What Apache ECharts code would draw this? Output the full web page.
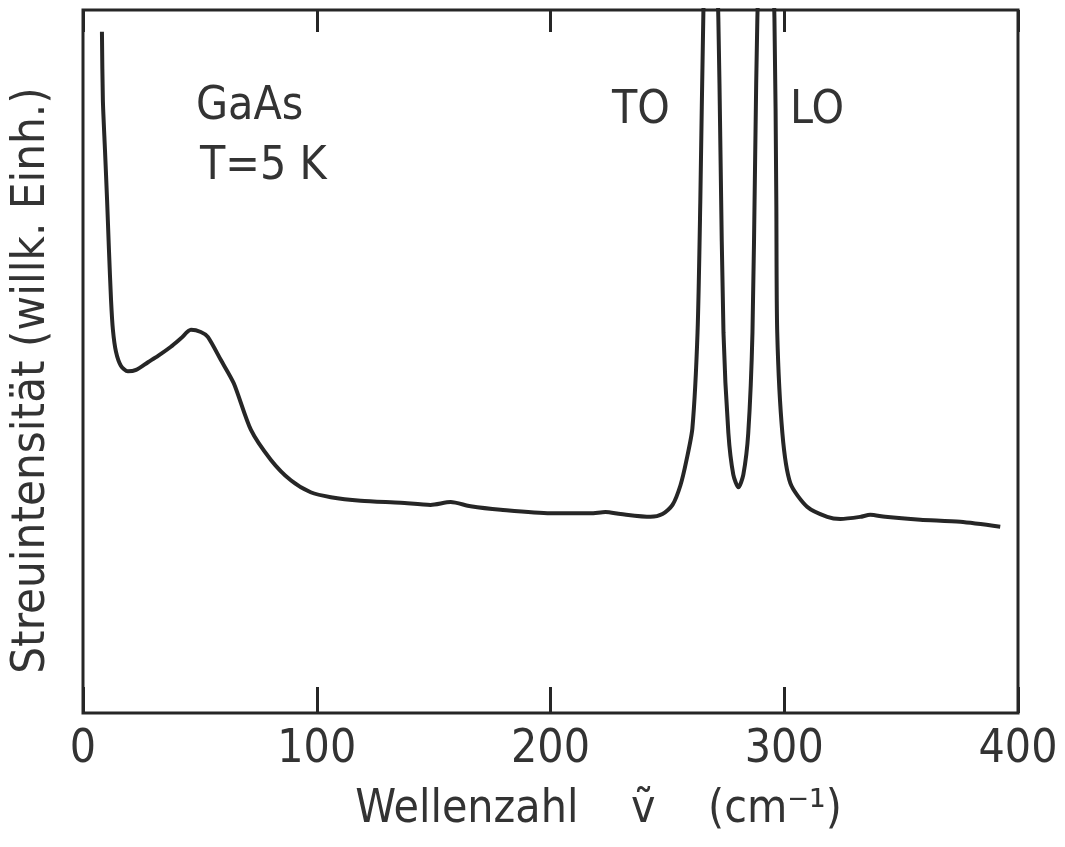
<!DOCTYPE html>
<html>
<head>
<meta charset="utf-8">
<script src="https://cdn.jsdelivr.net/npm/echarts@6/dist/echarts.min.js"></script>
<style>
  html, body { margin: 0; padding: 0; background: #fff; }
  #chart { width: 1065px; height: 847px; }
</style>
</head>
<body>
<div id="chart"></div>
<script>
// Raman spectrum of GaAs at 5 K
var wavenumber = [
  8.1, 8.5, 9.4, 10.3, 11.1, 12.0, 12.8, 14.1, 16.2, 19.2, 22.7,
  27.8, 32.1, 37.6, 41.9, 46.2, 50.4, 53.4, 59.0, 64.5, 71.8,
  80.4, 88.9, 97.4, 106.0, 118.8, 135.9, 148.7, 157.3, 165.8, 178.7,
  200.0, 217.1, 223.5, 230.0, 242.8, 247.9, 252.2, 255.6, 258.2, 260.7,
  262.9, 264.1, 265.4, 268.4, 271.8, 272.7, 274.0, 276.1, 278.2, 280.4,
  282.5, 284.6, 286.4, 287.6, 288.5, 292.3, 295.8, 296.6, 297.0, 299.2,
  302.6, 309.9, 318.4, 324.0, 332.5, 336.8, 343.2, 358.2, 375.3, 392.4
];
var intensity = [
  96.9, 87.2, 80.1, 73.0, 65.9, 58.7, 54.5, 51.4, 49.4, 48.6, 48.8,
  49.9, 50.8, 52.1, 53.3, 54.5, 54.2, 53.5, 50.2, 46.9, 40.3,
  36.0, 33.1, 31.4, 30.7, 30.2, 29.9, 29.6, 30.0, 29.4, 28.9,
  28.4, 28.4, 28.6, 28.3, 27.9, 28.3, 29.6, 32.4, 36.0, 40.5,
  54.1, 73.0, 99.6, 140, 98.9, 80.1, 54.1, 39.8, 33.9, 32.1,
  33.9, 39.8, 54.1, 80.1, 98.9, 140, 98.9, 73.0, 54.1, 39.8,
  32.7, 29.3, 27.9, 27.6, 27.9, 28.2, 27.9, 27.5, 27.2, 26.5
];
var xTicks = [0, 100, 200, 300, 400];

var points = wavenumber.map(function (x, i) { return [x, intensity[i]]; });

var ink = '#262626';
var font = '"Liberation Sans Narrow", "DejaVu Sans Condensed", "DejaVu Sans", sans-serif';

var chart = echarts.init(document.getElementById('chart'));
chart.setOption({
  backgroundColor: '#fff',
  animation: false,
  grid: {
    left: 82, right: 47, top: 10, bottom: 134,
    show: true, borderColor: ink, borderWidth: 3, backgroundColor: 'transparent'
  },
  xAxis: [{
    type: 'value', position: 'bottom',
    min: xTicks[0], max: xTicks[xTicks.length - 1], interval: 100,
    axisLine: { show: false },
    axisTick: { show: true, inside: true, length: 26, lineStyle: { color: ink, width: 3 } },
    axisLabel: { show: true, margin: 14, color: '#333', fontSize: 46, fontFamily: font },
    splitLine: { show: false },
    name: 'Wellenzahl    ṽ    (cm⁻¹)',
    nameLocation: 'middle', nameGap: 74,
    nameTextStyle: { color: '#333', fontSize: 46, fontFamily: font, padding: [0, 0, 0, 96] }
  }, {
    type: 'value', position: 'top',
    min: xTicks[0], max: xTicks[xTicks.length - 1], interval: 100,
    axisLine: { show: false },
    axisTick: { show: true, inside: true, length: 22, lineStyle: { color: ink, width: 3 } },
    axisLabel: { show: false },
    splitLine: { show: false }
  }],
  yAxis: {
    type: 'value', min: 0, max: 100,
    axisLine: { show: false }, axisTick: { show: false },
    axisLabel: { show: false }, splitLine: { show: false },
    name: 'Streuintensität (willk. Einh.)',
    nameLocation: 'middle', nameGap: 28,
    nameTextStyle: { color: '#333', fontSize: 47, fontFamily: font, padding: [0, 38, 0, 0] }
  },
  graphic: [
    { type: 'text', left: 196, top: 84, style: { text: 'GaAs', font: '46px ' + font, fill: '#333' } },
    { type: 'text', left: 200, top: 144, style: { text: 'T=5 K', font: '46px ' + font, fill: '#333' } },
    { type: 'text', left: 612, top: 88, style: { text: 'TO', font: '46px ' + font, fill: '#333' } },
    { type: 'text', left: 790, top: 88, style: { text: 'LO', font: '46px ' + font, fill: '#333' } }
  ],
  series: [{
    type: 'line',
    data: points,
    xAxisIndex: 0,
    showSymbol: false,
    smooth: 0.25,
    clip: true,
    lineStyle: { color: ink, width: 4 }
  }]
});
</script>
</body>
</html>
